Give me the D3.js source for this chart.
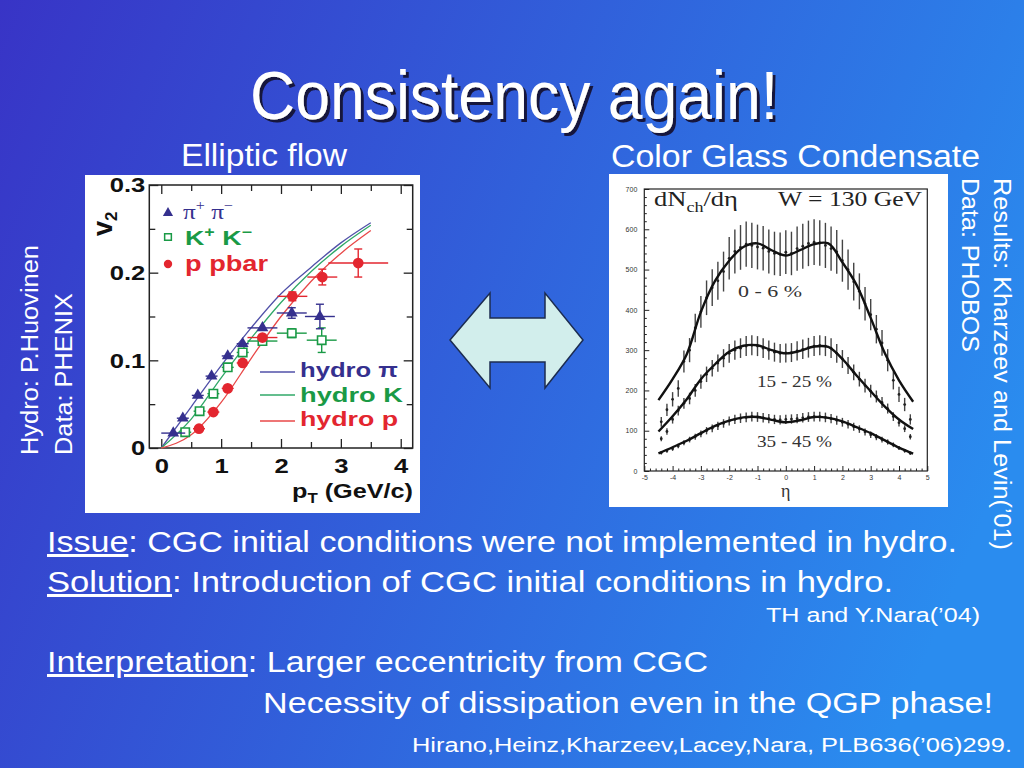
<!DOCTYPE html>
<html lang="en">
<head>
<meta charset="UTF-8">
<title>Consistency again!</title>
<style>
  body, html { margin: 0; padding: 0; overflow: hidden; background: #3060d8; }
  svg { display: block; }
  text { font-family: "Liberation Sans", Arial, sans-serif; }
</style>
<script src="https://d3js.org/d3.v7.min.js"></script>
</head>
<body>
<div id="slide"></div>
<script>
// ---- left chart: PHENIX v2(pT) with hydro curves ----
const piPt    = [0.20, 0.36, 0.61, 0.84, 1.11, 1.36, 1.69, 2.18, 2.65];
const piV2    = [0.017, 0.034, 0.060, 0.082, 0.105, 0.119, 0.137, 0.154, 0.150];
const piPtErr = [0.20, 0.10, 0.10, 0.10, 0.10, 0.10, 0.25, 0.25, 0.25];
const piV2Err = [0, 0, 0, 0, 0, 0, 0, 0.006, 0.014];

const kPt     = [0.40, 0.64, 0.87, 1.11, 1.36, 1.69, 2.18, 2.68];
const kV2     = [0.018, 0.042, 0.062, 0.092, 0.109, 0.122, 0.131, 0.123];
const kPtErr  = [0.10, 0.10, 0.10, 0.10, 0.10, 0.25, 0.25, 0.25];
const kV2Err  = [0, 0, 0, 0, 0, 0, 0.005, 0.014];

const pPt     = [0.63, 0.87, 1.11, 1.36, 1.69, 2.19, 2.69, 3.29];
const pV2     = [0.022, 0.041, 0.068, 0.097, 0.126, 0.173, 0.195, 0.211];
const pPtErr  = [0.10, 0.10, 0.10, 0.10, 0.25, 0.25, 0.25, 0.50];
const pV2Err  = [0, 0, 0, 0, 0, 0.005, 0.009, 0.016];

const hydroPt = [0, 0.5, 1.0, 1.5, 2.0, 2.5, 3.0, 3.5];
const hydroPi = [0, 0.047, 0.094, 0.137, 0.176, 0.206, 0.234, 0.257];
const hydroK  = [0, 0.033, 0.080, 0.125, 0.166, 0.201, 0.230, 0.254];
const hydroP  = [0, 0.015, 0.052, 0.102, 0.150, 0.190, 0.222, 0.248];

const ptTicks = [0, 1, 2, 3, 4];
const v2Ticks = [0, 0.1, 0.2, 0.3];

// ---- right chart: PHOBOS dN/deta, CGC curves ----
const etaData = [-4.4, -4.2, -4.0, -3.8, -3.6, -3.4, -3.2, -3.0, -2.8, -2.6, -2.4, -2.2, -2.0, -1.8, -1.6,
                 -1.4, -1.2, -1.0, -0.8, -0.6, -0.4, -0.2, 0, 0.2, 0.4, 0.6, 0.8, 1.0, 1.2, 1.4,
                 1.6, 1.8, 2.0, 2.2, 2.4, 2.6, 2.8, 3.0, 3.2, 3.4, 3.6, 3.8, 4.0, 4.2, 4.4];
const dn0_6   = [122, 152, 178, 205, 272, 300, 355, 395, 430, 455, 472, 495, 528, 545, 555,
                 563, 560, 556, 553, 545, 540, 538, 543, 540, 552, 558, 565, 568, 566, 560,
                 552, 544, 522, 500, 470, 446, 415, 388, 352, 318, 275, 225, 190, 165, 128];
const dn15_25 = [80, 98, 128, 150, 168, 180, 200, 222, 240, 255, 268, 280, 292, 300, 305,
                 310, 312, 310, 305, 300, 295, 292, 293, 294, 298, 302, 306, 310, 312, 310,
                 305, 292, 278, 262, 245, 228, 212, 198, 185, 170, 155, 135, 120, 105, 85];
const dn35_45 = [45, 50, 55, 62, 70, 78, 85, 92, 100, 106, 112, 118, 124, 128, 131,
                 133, 135, 134, 132, 130, 128, 127, 128, 129, 130, 132, 134, 135, 135, 133,
                 130, 126, 121, 116, 110, 104, 97, 90, 84, 78, 72, 65, 57, 50, 44];
const errFrac = [0.10, 0.08, 0.09];

const etaCurve  = [-4.5, -4, -3.5, -3, -2.5, -2, -1.5, -1, -0.5, 0, 0.5, 1, 1.5, 2, 2.5, 3, 3.5, 4, 4.5];
const cgc0_6    = [176, 228, 290, 395, 472, 522, 556, 565, 548, 535, 548, 563, 565, 518, 462, 380, 292, 225, 172];
const cgc15_25  = [98, 136, 178, 228, 265, 296, 311, 312, 300, 292, 298, 309, 308, 278, 237, 198, 160, 128, 104];
const cgc35_45  = [44, 59, 75, 94, 112, 125, 133, 134, 127, 121, 126, 134, 132, 123, 109, 94, 76, 58, 43];

const etaTicks = [-5, -4, -3, -2, -1, 0, 1, 2, 3, 4, 5];
const dnTicks  = [0, 100, 200, 300, 400, 500, 600, 700];

const navy = "#35308e", green = "#1a9a46", red = "#e3262f";

const svg = d3.select("#slide").append("svg").attr("width", 1024).attr("height", 768);

const defs = svg.append("defs");
const grad = defs.append("linearGradient")
    .attr("id", "bg").attr("gradientUnits", "userSpaceOnUse")
    .attr("x1", 0).attr("y1", 0).attr("x2", 1024).attr("y2", 420);
grad.append("stop").attr("offset", 0).attr("stop-color", "#3834c6");
grad.append("stop").attr("offset", 1).attr("stop-color", "#2a8cef");
defs.append("filter").attr("id", "shadow").attr("x", "-5%").attr("y", "-20%").attr("width", "110%").attr("height", "140%")
    .append("feDropShadow").attr("dx", 3).attr("dy", 3).attr("stdDeviation", 0.6)
    .attr("flood-color", "#12123e").attr("flood-opacity", 1);
svg.append("rect").attr("width", 1024).attr("height", 768).attr("fill", "url(#bg)");

function widen(sel, k) {
    sel.each(function() {
        const w = this.getComputedTextLength();
        d3.select(this).attr("textLength", w * k).attr("lengthAdjust", "spacingAndGlyphs");
    });
}

// title with drop shadow
svg.append("text").attr("x", 250).attr("y", 119).attr("font-size", 68).attr("fill", "#fff")
    .attr("filter", "url(#shadow)")
    .attr("textLength", 528).attr("lengthAdjust", "spacingAndGlyphs")
    .text("Consistency again!");

svg.append("text").attr("x", 181).attr("y", 166).attr("font-size", 31).attr("fill", "#fff")
    .attr("textLength", 166).attr("lengthAdjust", "spacingAndGlyphs").text("Elliptic flow");
svg.append("text").attr("x", 611).attr("y", 167).attr("font-size", 31).attr("fill", "#fff")
    .attr("textLength", 369).attr("lengthAdjust", "spacingAndGlyphs").text("Color Glass Condensate");

// ================= left chart =================
svg.append("rect").attr("x", 85).attr("y", 175).attr("width", 335).attr("height", 338).attr("fill", "#fff");

const xL = d3.scaleLinear().domain([-0.2, 4.2]).range([149.3, 412.7]);
const yL = d3.scaleLinear().domain([0, 0.3]).range([448, 185]);
const gL = svg.append("g");

const ptMinor = d3.range(0.5, 4, 1);
const v2Minor = [0.05, 0.15, 0.25];

function strip(g) { g.select(".domain").remove(); g.selectAll("line").attr("stroke", "#222").attr("stroke-width", 1.3); }

gL.append("g").attr("transform", `translate(0,${yL(0)})`)
    .call(d3.axisBottom(xL).tickValues(ptTicks).tickSize(-9).tickPadding(10).tickFormat(d3.format("d")))
    .call(strip)
    .call(g => g.selectAll("text").attr("font-size", 21).attr("font-weight", "bold").attr("fill", "#111")
        .attr("font-family", "Liberation Sans, Arial, sans-serif"));
gL.append("g").attr("transform", `translate(0,${yL(0)})`)
    .call(d3.axisBottom(xL).tickValues(ptMinor).tickSize(-6).tickFormat("")).call(strip);
gL.append("g").attr("transform", `translate(0,${yL(0.3)})`)
    .call(d3.axisTop(xL).tickValues(ptTicks).tickSize(-9).tickFormat("")).call(strip);
gL.append("g").attr("transform", `translate(0,${yL(0.3)})`)
    .call(d3.axisTop(xL).tickValues(ptMinor).tickSize(-6).tickFormat("")).call(strip);
gL.append("g").attr("transform", `translate(${xL(-0.2)},0)`)
    .call(d3.axisLeft(yL).tickValues(v2Ticks).tickSize(-9).tickPadding(4).tickFormat(d => d === 0 ? "0" : d.toFixed(1)))
    .call(strip)
    .call(g => g.selectAll("text").attr("font-size", 21).attr("font-weight", "bold").attr("fill", "#111")
        .attr("font-family", "Liberation Sans, Arial, sans-serif"));
gL.append("g").attr("transform", `translate(${xL(-0.2)},0)`)
    .call(d3.axisLeft(yL).tickValues(v2Minor).tickSize(-6).tickFormat("")).call(strip);
gL.append("g").attr("transform", `translate(${xL(4.2)},0)`)
    .call(d3.axisRight(yL).tickValues(v2Ticks).tickSize(-9).tickFormat("")).call(strip);
gL.append("g").attr("transform", `translate(${xL(4.2)},0)`)
    .call(d3.axisRight(yL).tickValues(v2Minor).tickSize(-6).tickFormat("")).call(strip);
widen(gL.selectAll("text"), 1.22);

gL.append("rect").attr("x", xL(-0.2)).attr("y", yL(0.3))
    .attr("width", xL(4.2) - xL(-0.2)).attr("height", yL(0) - yL(0.3))
    .attr("fill", "none").attr("stroke", "#222").attr("stroke-width", 1.5);

// hydro curves
const hline = d3.line().x(d => xL(d[0])).y(d => yL(d[1])).curve(d3.curveMonotoneX);
[[hydroPi, "#5050a8"], [hydroK, "#30a868"], [hydroP, "#e84848"]].forEach(([vals, c]) => {
    gL.append("path").datum(hydroPt.map((p, i) => [p, vals[i]]))
        .attr("d", hline).attr("fill", "none").attr("stroke", c).attr("stroke-width", 1.3);
});

// data with error bars
function drawSeries(pts, v2s, xe, ye, color, shape) {
    const data = pts.map((p, i) => ({ pt: p, v: v2s[i], xe: xe[i], ye: ye[i] }));
    const g = gL.append("g");
    g.selectAll(".xe").data(data).join("line")
        .attr("x1", d => xL(d.pt - d.xe)).attr("x2", d => xL(d.pt + d.xe))
        .attr("y1", d => yL(d.v)).attr("y2", d => yL(d.v))
        .attr("stroke", color).attr("stroke-width", 1.4);
    const withY = data.filter(d => d.ye > 0);
    g.selectAll(".ye").data(withY).join("line")
        .attr("x1", d => xL(d.pt)).attr("x2", d => xL(d.pt))
        .attr("y1", d => yL(d.v - d.ye)).attr("y2", d => yL(d.v + d.ye))
        .attr("stroke", color).attr("stroke-width", 1.4);
    [-1, 1].forEach(s => {
        g.selectAll(".cap" + s).data(withY).join("line")
            .attr("x1", d => xL(d.pt) - 4).attr("x2", d => xL(d.pt) + 4)
            .attr("y1", d => yL(d.v + s * d.ye)).attr("y2", d => yL(d.v + s * d.ye))
            .attr("stroke", color).attr("stroke-width", 1.4);
    });
    const marks = g.selectAll(".m").data(data).join("path")
        .attr("transform", d => `translate(${xL(d.pt)},${yL(d.v)})`);
    if (shape === "tri") {
        marks.attr("d", d3.symbol(d3.symbolTriangle, 60)).attr("fill", color);
    } else if (shape === "sq") {
        marks.attr("d", d3.symbol(d3.symbolSquare, 70)).attr("fill", "#fff").attr("stroke", color).attr("stroke-width", 1.6);
    } else {
        marks.attr("d", d3.symbol(d3.symbolCircle, 90)).attr("fill", color);
    }
}
drawSeries(kPt, kV2, kPtErr, kV2Err, green, "sq");
drawSeries(pPt, pV2, pPtErr, pV2Err, red, "circ");
drawSeries(piPt, piV2, piPtErr, piV2Err, navy, "tri");

// legend (data)
gL.append("path").attr("transform", "translate(168,213)").attr("d", d3.symbol(d3.symbolTriangle, 45)).attr("fill", navy);
gL.append("path").attr("transform", "translate(168,237)").attr("d", d3.symbol(d3.symbolSquare, 45))
    .attr("fill", "#fff").attr("stroke", green).attr("stroke-width", 1.5);
gL.append("path").attr("transform", "translate(168,264)").attr("d", d3.symbol(d3.symbolCircle, 55)).attr("fill", red);

const lgPi = gL.append("text").attr("x", 183).attr("y", 219).attr("fill", navy).attr("font-size", 22)
    .style("font-family", "Liberation Serif, serif");
lgPi.append("tspan").text("π");
lgPi.append("tspan").attr("dy", -9).attr("font-size", 14).text("+");
lgPi.append("tspan").attr("dy", 9).text(" π");
lgPi.append("tspan").attr("dy", -9).attr("font-size", 14).text("−");
lgPi.attr("textLength", 50).attr("lengthAdjust", "spacingAndGlyphs");

const lgK = gL.append("text").attr("x", 185).attr("y", 245).attr("fill", green).attr("font-size", 21).attr("font-weight", "bold");
lgK.append("tspan").text("K");
lgK.append("tspan").attr("dy", -8).attr("font-size", 14).text("+");
lgK.append("tspan").attr("dy", 8).text(" K");
lgK.append("tspan").attr("dy", -8).attr("font-size", 14).text("−");
lgK.attr("textLength", 67).attr("lengthAdjust", "spacingAndGlyphs");

gL.append("text").attr("x", 185).attr("y", 271).attr("fill", red).attr("font-size", 22).attr("font-weight", "bold")
    .attr("textLength", 83).attr("lengthAdjust", "spacingAndGlyphs").text("p  pbar");

// legend (hydro)
[["hydro π", "#5050a8", navy, 372, 377, 98], ["hydro K", "#30a868", green, 395, 402, 103], ["hydro p", "#e84848", red, 421, 426, 98]]
    .forEach(([label, lc, tc, ly, ty, tl]) => {
        gL.append("line").attr("x1", 260).attr("x2", 295).attr("y1", ly).attr("y2", ly)
            .attr("stroke", lc).attr("stroke-width", 1.3);
        gL.append("text").attr("x", 300).attr("y", ty).attr("fill", tc).attr("font-size", 21).attr("font-weight", "bold")
            .attr("textLength", tl).attr("lengthAdjust", "spacingAndGlyphs").text(label);
    });

// axis titles
const v2t = gL.append("text").attr("transform", "translate(112,236) rotate(-90)")
    .attr("font-size", 27).attr("font-weight", "bold").attr("fill", "#111");
v2t.append("tspan").text("v");
v2t.append("tspan").attr("dy", 5).attr("font-size", 17).text("2");

const ptt = gL.append("text").attr("x", 292).attr("y", 498).attr("font-size", 21).attr("font-weight", "bold").attr("fill", "#111");
ptt.append("tspan").text("p");
ptt.append("tspan").attr("dy", 5).attr("font-size", 14).text("T");
ptt.append("tspan").attr("dy", -5).text(" (GeV/c)");
ptt.attr("textLength", 121).attr("lengthAdjust", "spacingAndGlyphs");

// ================= right chart =================
svg.append("rect").attr("x", 609).attr("y", 174).attr("width", 339).attr("height", 333).attr("fill", "#fff");

const xR = d3.scaleLinear().domain([-5, 5]).range([644.3, 927.3]);
const yR = d3.scaleLinear().domain([0, 700]).range([471, 189]);
const gR = svg.append("g");

function stripR(g) { g.select(".domain").remove(); g.selectAll("line").attr("stroke", "#222").attr("stroke-width", 1); }
const tinyText = g => g.selectAll("text").attr("font-size", 7).attr("fill", "#333")
    .attr("font-family", "Liberation Sans, Arial, sans-serif");

gR.append("g").attr("transform", `translate(0,${yR(0)})`)
    .call(d3.axisBottom(xR).tickValues(etaTicks).tickSize(-5).tickPadding(4).tickFormat(d => String(d)))
    .call(stripR).call(tinyText);
gR.append("g").attr("transform", `translate(0,${yR(0)})`)
    .call(d3.axisBottom(xR).tickValues(d3.range(-4.8, 5, 0.2).filter(v => Math.abs(v - Math.round(v)) > 0.05))
        .tickSize(-2.5).tickFormat("")).call(stripR);
gR.append("g").attr("transform", `translate(${xR(-5)},0)`)
    .call(d3.axisLeft(yR).tickValues(dnTicks).tickSize(-5).tickPadding(7)).call(stripR).call(tinyText);
gR.append("g").attr("transform", `translate(${xR(-5)},0)`)
    .call(d3.axisLeft(yR).tickValues(d3.range(20, 700, 20).filter(v => v % 100 !== 0)).tickSize(-2.5).tickFormat(""))
    .call(stripR);

gR.append("rect").attr("x", xR(-5)).attr("y", yR(700))
    .attr("width", xR(5) - xR(-5)).attr("height", yR(0) - yR(700))
    .attr("fill", "none").attr("stroke", "#222").attr("stroke-width", 1.2);

[dn0_6, dn15_25, dn35_45].forEach((vals, k) => {
    const data = etaData.map((e, i) => ({ e, v: vals[i] }));
    const f = errFrac[k];
    gR.append("g").selectAll("line").data(data).join("line")
        .attr("x1", d => xR(d.e)).attr("x2", d => xR(d.e))
        .attr("y1", d => yR(d.v * (1 - f))).attr("y2", d => yR(d.v * (1 + f)))
        .attr("stroke", "#444").attr("stroke-width", 1.4);
    gR.append("g").selectAll("circle").data(data).join("circle")
        .attr("cx", d => xR(d.e)).attr("cy", d => yR(d.v)).attr("r", 1.4).attr("fill", "#222");
});

const cline = d3.line().x(d => xR(d[0])).y(d => yR(d[1])).curve(d3.curveCatmullRom);
[cgc0_6, cgc15_25, cgc35_45].forEach(vals => {
    gR.append("path").datum(etaCurve.map((e, i) => [e, vals[i]]))
        .attr("d", cline).attr("fill", "none").attr("stroke", "#111").attr("stroke-width", 2.4);
});

const serif = "Liberation Serif, DejaVu Serif, serif";
const dnt = gR.append("text").attr("x", 654).attr("y", 206).attr("font-size", 22).attr("fill", "#222").style("font-family", serif);
dnt.append("tspan").text("dN");
dnt.append("tspan").attr("dy", 6).attr("font-size", 15).text("ch");
dnt.append("tspan").attr("dy", -6).text("/dη");
dnt.attr("textLength", 84).attr("lengthAdjust", "spacingAndGlyphs");
gR.append("text").attr("x", 778).attr("y", 206).attr("font-size", 22).attr("fill", "#222").style("font-family", serif)
    .attr("textLength", 144).attr("lengthAdjust", "spacingAndGlyphs").text("W = 130 GeV");

[["0 - 6 %", 738, 297, 64], ["15 - 25 %", 757, 387, 75], ["35 - 45 %", 757, 447, 75]].forEach(([t, x, y, w]) => {
    gR.append("text").attr("x", x).attr("y", y).attr("font-size", 17).attr("fill", "#333").style("font-family", serif)
        .attr("textLength", w).attr("lengthAdjust", "spacingAndGlyphs").text(t);
});
gR.append("text").attr("x", xR(0)).attr("y", 497).attr("text-anchor", "middle").attr("font-size", 18)
    .attr("fill", "#333").style("font-family", serif).text("η");

// ================= double arrow =================
svg.append("path")
    .attr("d", "M450,340 L490,293 L490,318 L545,318 L545,293 L583,340 L545,388 L545,362 L490,362 L490,388 Z")
    .attr("fill", "#d2eeec").attr("stroke", "#1c2c50").attr("stroke-width", 1.5);

// ================= side notes =================
function vtext(x, y, rot, str, len) {
    svg.append("text").attr("transform", `translate(${x},${y}) rotate(${rot})`)
        .attr("font-size", 23).attr("fill", "#fff")
        .attr("textLength", len).attr("lengthAdjust", "spacingAndGlyphs").text(str);
}
vtext(38, 455, -90, "Hydro: P.Huovinen", 210);
vtext(72, 455, -90, "Data: PHENIX", 162);
vtext(994, 178, 90, "Results: Kharzeev and Levin(’01)", 372);
vtext(962, 178, 90, "Data: PHOBOS", 174);

// ================= bottom text =================
function line(x, y, size, len, parts) {
    const t = svg.append("text").attr("x", x).attr("y", y).attr("font-size", size).attr("fill", "#fff");
    parts.forEach(([s, u]) => {
        const sp = t.append("tspan").text(s);
        if (u) sp.style("text-decoration", "underline");
    });
    t.attr("textLength", len).attr("lengthAdjust", "spacingAndGlyphs");
}
line(47, 552, 30, 910, [["Issue", true], [": CGC initial conditions were not implemented in hydro."]]);
line(47, 592, 30, 846, [["Solution", true], [": Introduction of CGC initial conditions in hydro."]]);
line(766, 622, 20, 214, [["TH and Y.Nara(’04)"]]);
line(47, 672, 30, 661, [["Interpretation", true], [": Larger eccentricity from CGC"]]);
line(263, 713, 30, 730, [["Necessity of dissipation even in the QGP phase!"]]);
line(412, 752, 20, 600, [["Hirano,Heinz,Kharzeev,Lacey,Nara, PLB636(’06)299."]]);
</script>
</body>
</html>
